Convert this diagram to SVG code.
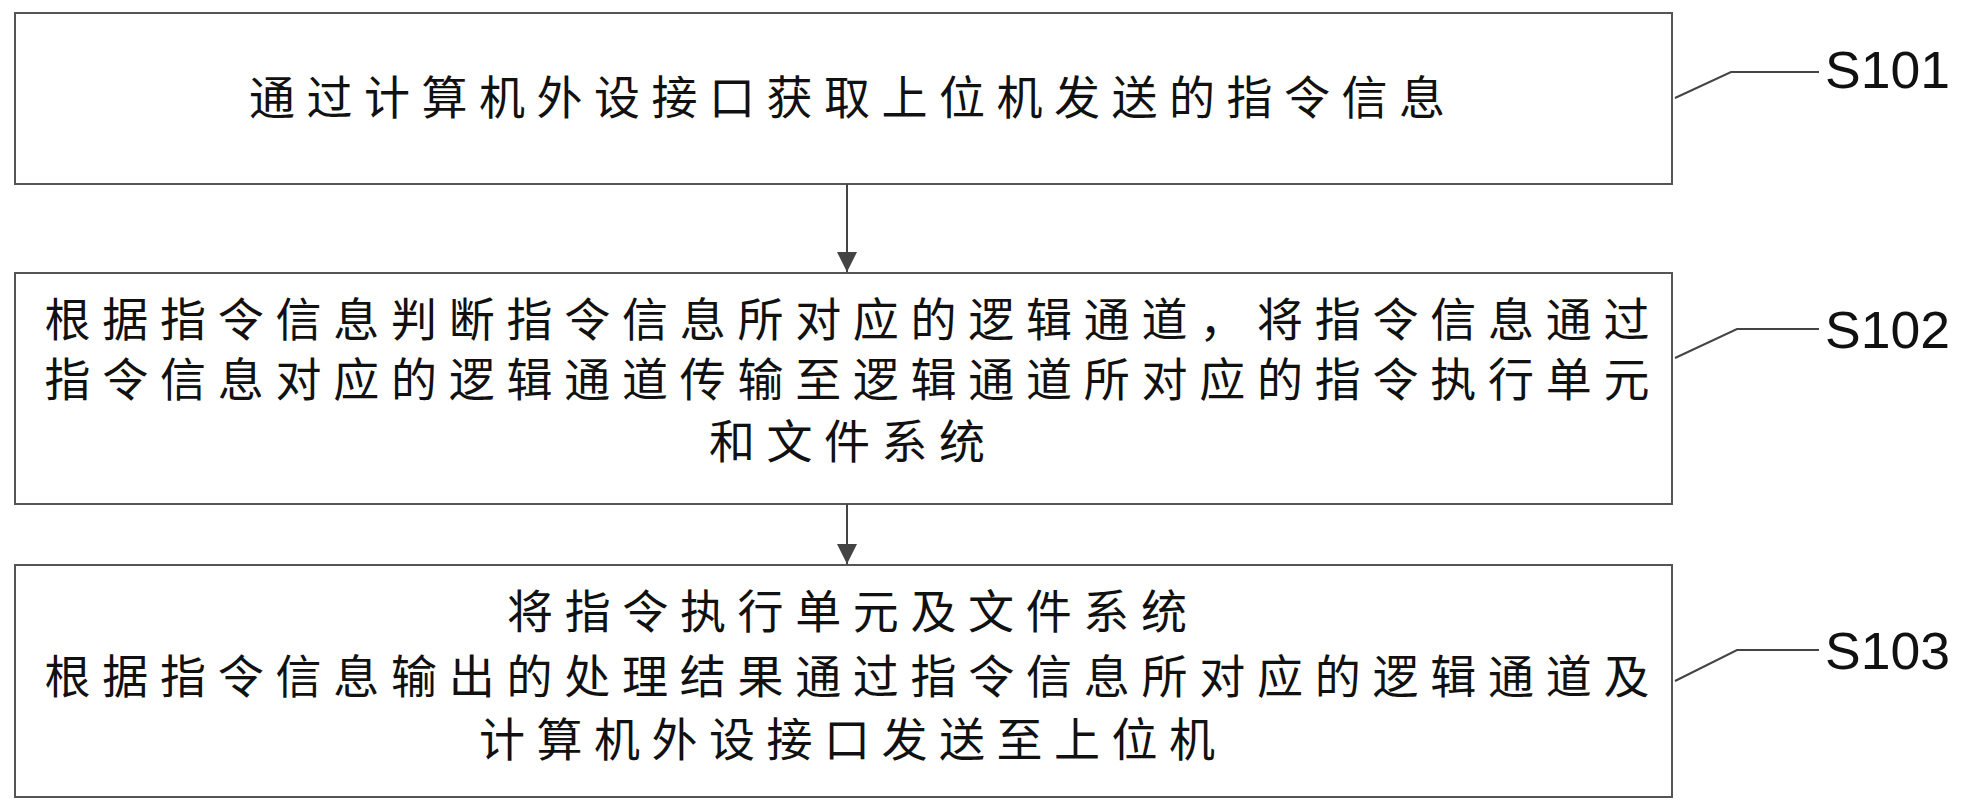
<svg xmlns="http://www.w3.org/2000/svg" width="1967" height="810" viewBox="0 0 1967 810">
<style>
.box{fill:#fff;stroke:#555;stroke-width:2}
.t{font-family:"Noto Sans CJK SC",sans-serif;font-size:46px;fill:#111;text-anchor:middle}
.s{font-family:"Liberation Sans",sans-serif;font-size:52px;fill:#111}
.ln{fill:none;stroke:#444;stroke-width:2}
</style>
<defs><marker id="ah" viewBox="0 0 20 20" markerWidth="20" markerHeight="20" refX="20" refY="10" orient="auto" markerUnits="userSpaceOnUse"><path d="M0,0 L20,10 L0,20 Z" fill="#444"/></marker></defs>
<rect width="1967" height="810" fill="#fff"/>
<g id="n1"><rect class="box" x="15" y="13" width="1657" height="171"/>
<text class="t" x="847" y="114" textLength="1196" lengthAdjust="spacing">通过计算机外设接口获取上位机发送的指令信息</text></g>
<g id="n2"><rect class="box" x="15" y="273" width="1657" height="231"/>
<text class="t" x="847" y="336" textLength="1605" lengthAdjust="spacing">根据指令信息判断指令信息所对应的逻辑通道，将指令信息通过</text>
<text class="t" x="847" y="396" textLength="1605" lengthAdjust="spacing">指令信息对应的逻辑通道传输至逻辑通道所对应的指令执行单元</text>
<text class="t" x="847" y="458" textLength="276" lengthAdjust="spacing">和文件系统</text></g>
<g id="n3"><rect class="box" x="15" y="565" width="1657" height="232"/>
<text class="t" x="847" y="628" textLength="680" lengthAdjust="spacing">将指令执行单元及文件系统</text>
<text class="t" x="847" y="693" textLength="1605" lengthAdjust="spacing">根据指令信息输出的处理结果通过指令信息所对应的逻辑通道及</text>
<text class="t" x="847" y="756" textLength="736" lengthAdjust="spacing">计算机外设接口发送至上位机</text></g>
<g id="labels">
<text class="s" x="1825" y="88" textLength="125" lengthAdjust="spacingAndGlyphs">S101</text>
<text class="s" x="1825" y="348" textLength="125" lengthAdjust="spacingAndGlyphs">S102</text>
<text class="s" x="1825" y="669" textLength="125" lengthAdjust="spacingAndGlyphs">S103</text>
</g>
<g id="connectors">
<path class="ln" d="M847,184 V272" marker-end="url(#ah)"/>
<path class="ln" d="M847,504 V564" marker-end="url(#ah)"/>
<path class="ln" d="M1675,98 L1731,72 H1819"/>
<path class="ln" d="M1675,358 L1737,329 H1819"/>
<path class="ln" d="M1675,681 L1737,650 H1819"/>
</g>
</svg>
